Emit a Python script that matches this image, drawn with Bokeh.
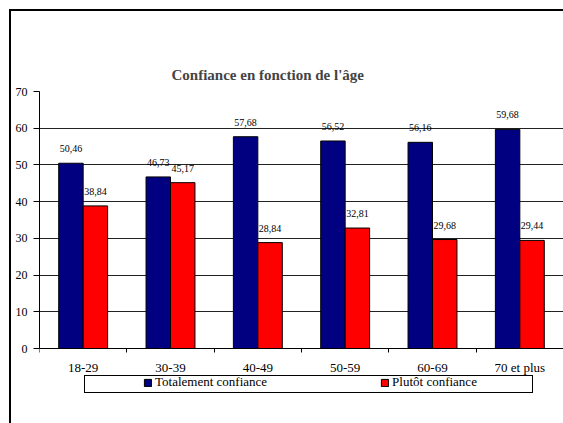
from bokeh.plotting import figure
from bokeh.models import (ColumnDataSource, Range1d, FixedTicker, LabelSet,
                          Legend, LegendItem, InlineStyleSheet)
from bokeh.embed import file_html
from bokeh.resources import INLINE

# ---- data ----
categories = ["18-29", "30-39", "40-49", "50-59", "60-69", "70 et plus"]
totalement = [50.46, 46.73, 57.68, 56.52, 56.16, 59.68]
plutot = [38.84, 45.17, 28.84, 32.81, 29.68, 29.44]
series_names = ["Totalement confiance", "Plutôt confiance"]
y_ticks = [0, 10, 20, 30, 40, 50, 60, 70]
title_text = "Confiance en fonction de l'âge"

FONT = "Liberation Serif"


def fmt(v):
    return f"{v:.2f}".replace(".", ",")


n = len(categories)
centers = [i + 0.5 for i in range(n)]
bounds = list(range(n + 1))
bar_w = 0.28

src_a = ColumnDataSource(dict(x=[c - bar_w / 2 for c in centers], top=totalement,
                              label=[fmt(v) for v in totalement]))
src_b = ColumnDataSource(dict(x=[c + bar_w / 2 for c in centers], top=plutot,
                              label=[fmt(v) for v in plutot]))

# layout: plot band 257 px for 0..70, plus a 44 px band under it for axis labels
# and legend, all inside the frame so nothing is clipped
PLOT_PX, BAND_PX = 257, 44
y_lo = -y_ticks[-1] * BAND_PX / PLOT_PX

p = figure(frame_width=524, frame_height=PLOT_PX + BAND_PX, output_backend="svg",
           toolbar_location=None,
           x_range=Range1d(0, n), y_range=Range1d(y_lo, y_ticks[-1]),
           min_border_left=39, min_border_right=0, min_border_top=91,
           min_border_bottom=31)
# decorative frames drawn by CSS: chart-area frame (left/top edges) and legend box
p.stylesheets = [InlineStyleSheet(css=(
    ":host::after { content: ''; position: absolute; left: 9px; top: 9px; "
    "width: 554px; height: 414px; border-left: 2px solid black; "
    "border-top: 2px solid black; box-sizing: border-box; "
    "pointer-events: none; z-index: 3; }"
    ":host::before { content: ''; position: absolute; left: 84px; top: 375px; "
    "width: 449px; height: 18px; border: 1px solid black; "
    "box-sizing: border-box; pointer-events: none; z-index: 3; }"))]
p.background_fill_color = "white"
p.border_fill_color = "white"
p.outline_line_color = None

# title
p.title.text = title_text
p.title.text_font = FONT
p.title.text_font_size = "15px"
p.title.text_font_style = "bold"
p.title.align = "left"
p.title.offset = 132
p.title.standoff = 17

# bars
ra = p.vbar(x="x", top="top", width=bar_w, bottom=0, source=src_a,
            fill_color="#000080", line_color="black", line_width=1)
rb = p.vbar(x="x", top="top", width=bar_w, bottom=0, source=src_b,
            fill_color="#FF0000", line_color="black", line_width=1)

# value labels
for src in (src_a, src_b):
    p.add_layout(LabelSet(x="x", y="top", text="label", source=src,
                          y_offset=11, text_align="center", text_baseline="bottom",
                          text_font=FONT, text_font_size="10px",
                          text_color="black"))

# axes
xa = p.xaxis[0]
xa.fixed_location = 0
xa.ticker = FixedTicker(ticks=centers, minor_ticks=bounds)
xa.major_label_overrides = {c: lab for c, lab in zip(centers, categories)}
xa.major_tick_out = 0
xa.major_tick_in = 0
xa.minor_tick_out = 4
xa.minor_tick_in = 0
xa.minor_tick_line_color = "black"
xa.axis_line_color = "black"
xa.major_label_text_font = FONT
xa.major_label_text_font_size = "13px"
xa.major_label_text_color = "black"
xa.major_label_standoff = 7

ya = p.yaxis[0]
ya.bounds = (y_ticks[0], y_ticks[-1])
ya.ticker = FixedTicker(ticks=y_ticks)
ya.major_tick_out = 6
ya.major_tick_in = 0
ya.minor_tick_line_color = None
ya.axis_line_color = "black"
ya.major_label_text_font = FONT
ya.major_label_text_font_size = "12px"
ya.major_label_text_color = "black"
ya.major_label_standoff = 6

p.xgrid.grid_line_color = None
p.ygrid.ticker = FixedTicker(ticks=y_ticks)
p.ygrid.grid_line_color = "#222222"
p.ygrid.grid_line_width = 1

# legend entries (inside the frame's lower band)
legend = Legend(items=[LegendItem(label=series_names[0], renderers=[ra]),
                       LegendItem(label=series_names[1], renderers=[rb])],
                orientation="horizontal", location=(104, 2), margin=0,
                padding=0, spacing=113, label_width=0,
                glyph_width=9, glyph_height=9, label_standoff=3,
                label_height=13, label_text_font=FONT,
                label_text_font_size="13px", label_text_color="black",
                border_line_color=None, background_fill_alpha=0)
p.add_layout(legend)

open("out.html", "w").write(file_html(p, INLINE))
